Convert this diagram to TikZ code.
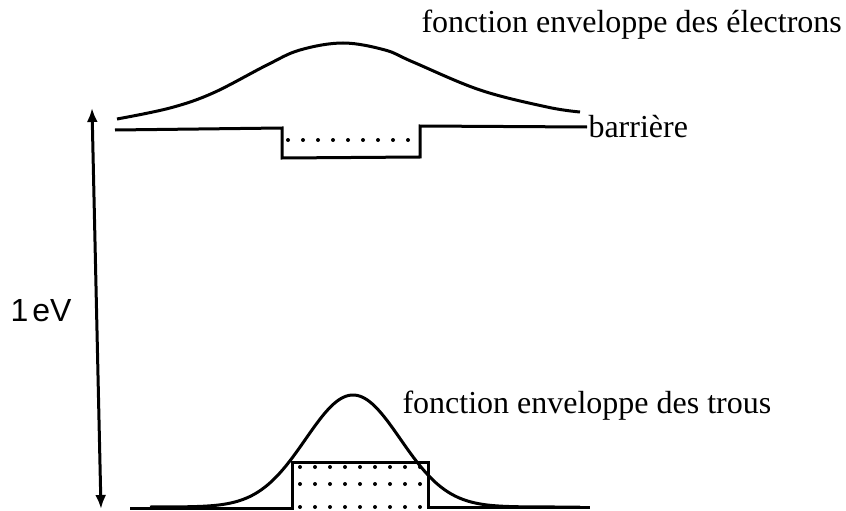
\documentclass[tikz,border=0pt]{standalone}
\usepackage{fontspec}
\setmainfont{Liberation Serif}
\newfontfamily\evfont{Liberation Sans}
\usetikzlibrary{arrows.meta}

\begin{document}
\begin{tikzpicture}[>=Latex,x=1pt,y=-1pt,line width=3pt,
  lbl/.style={font=\fontsize{32}{34}\selectfont,inner sep=0pt},
  level/.style={line width=4pt,line cap=round,dash pattern=on 0pt off 15pt}]
  \useasboundingbox (0,0) rectangle (846,511);
  % energie
  \coordinate (top) at (92,108);
  \coordinate (bot) at (101,509);
  \draw[{Latex[length=14pt,width=11pt]}-{Latex[length=14pt,width=11pt]}] (top) -- (bot);
  \node[lbl,font=\evfont\fontsize{32}{34}\selectfont] (ev) at (41,311) {1\hspace{4pt}eV};
  % bande de conduction
  \node[lbl,anchor=west] (barr) at (587,127) {barrière};
  \coordinate (cb) at (115,130);
  \draw (cb) -- (282,128) -- (282,158) -- (420,157) -- (420,126) -- (barr.west);
  \draw[level] (288,140) -- (416,140);
  \node[lbl,anchor=west] (elec) at (420,25) {fonction enveloppe des électrons};
  \draw plot[smooth,tension=0.6] coordinates {(117,119) (170,108) (213,93) (267,65)
    (300,50) (343,43) (385,50) (413,62) (480,90) (547,107) (580,112)};
  % bande de valence
  \coordinate (vb) at (130,508);
  \coordinate (vbe) at (590,507);
  \draw (vb) -- (292,508) -- (292,462) -- (428,462) -- (428,507) -- (vbe);
  \foreach \y in {467,484,507}{
    \draw[level] (300,\y) -- (424,\y);
  }
  \draw plot[domain=150:580,samples=90,smooth] ({\x},{507-112*exp(-((\x-353)/67)^2)});
  \node[lbl,anchor=west] (trous) at (401,406) {fonction enveloppe des trous};
\end{tikzpicture}
\end{document}
